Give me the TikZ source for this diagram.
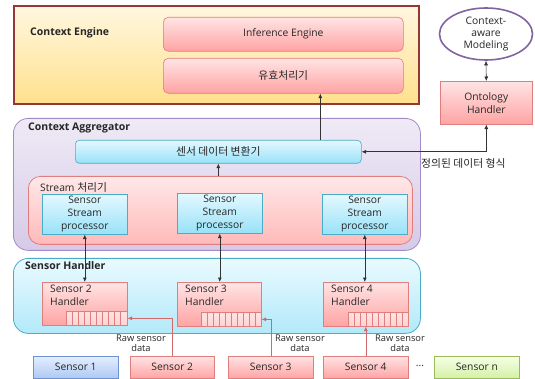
\documentclass[tikz,border=0pt]{standalone}
\usepackage{fontspec}
\setmainfont{Open Sans}
\newfontfamily\kr{Noto Sans CJK KR}
\usetikzlibrary{arrows.meta,shapes.geometric}
\definecolor{ceborder}{HTML}{953735}
\definecolor{cetop}{HTML}{FFF7E0}
\definecolor{cebot}{HTML}{FFE08C}
\definecolor{pktop}{HTML}{FFE4E4}
\definecolor{pkbot}{HTML}{FFA3A3}
\definecolor{pkborder}{HTML}{E07D7D}
\definecolor{cytop}{HTML}{E4F8FF}
\definecolor{cybot}{HTML}{98E2F8}
\definecolor{cyborder}{HTML}{4BACC6}
\definecolor{agtop}{HTML}{EFEAF6}
\definecolor{agbot}{HTML}{D6CAE8}
\definecolor{agborder}{HTML}{A28BC8}
\definecolor{sttop}{HTML}{FFE8E8}
\definecolor{stbot}{HTML}{FFB9B9}
\definecolor{shtop}{HTML}{E9FAFF}
\definecolor{shbot}{HTML}{B3E9F9}
\definecolor{s1top}{HTML}{E4EEFF}
\definecolor{s1bot}{HTML}{ADC9F2}
\definecolor{s1border}{HTML}{6F92D2}
\definecolor{sntop}{HTML}{F6FFE6}
\definecolor{snbot}{HTML}{D3F1A6}
\definecolor{snborder}{HTML}{9BBB59}
\definecolor{ellborder}{HTML}{8064A2}
\definecolor{rawline}{HTML}{D06A6A}
\definecolor{qfill}{HTML}{FFD2D2}
\tikzset{
  base/.style={anchor=north west, inner sep=0pt, align=center},
  cebox/.style={base, draw=ceborder, line width=1.8pt, top color=cetop, bottom color=cebot},
  pkbox/.style={base, draw=pkborder, line width=0.6pt, top color=pktop, bottom color=pkbot},
  cybox/.style={base, draw=cyborder, line width=0.6pt, top color=cytop, bottom color=cybot},
  agbox/.style={base, draw=agborder, line width=0.8pt, top color=agtop, bottom color=agbot, rounded corners=15pt},
  stbox/.style={base, draw=pkborder, line width=0.8pt, top color=sttop, bottom color=stbot, rounded corners=12pt},
  shbox/.style={base, draw=cyborder, line width=0.8pt, top color=shtop, bottom color=shbot, rounded corners=15pt},
  s1box/.style={base, draw=s1border, line width=0.6pt, top color=s1top, bottom color=s1bot},
  snbox/.style={base, draw=snborder, line width=0.6pt, top color=sntop, bottom color=snbot},
  qbox/.style={anchor=south east, inner sep=0pt, draw=pkborder, line width=0.5pt, top color=pktop, bottom color=qfill},
  title/.style={anchor=west, inner sep=0pt, font=\fontsize{10.5}{12}\selectfont\bfseries},
  plain/.style={inner sep=0pt, align=center},
  krtext/.style={font=\fontsize{10.8}{13}\selectfont\kr},
  arr/.style={-{Latex[length=4.5pt,width=4pt]}, line width=0.6pt, black!80},
  arrb/.style={{Latex[length=4.5pt,width=4pt]}-{Latex[length=4.5pt,width=4pt]}, line width=0.6pt, black!80},
  rarr/.style={-{Latex[length=4.5pt,width=4pt]}, line width=0.6pt, rawline},
}
\begin{document}
\begin{tikzpicture}[x=1pt,y=-1pt, font=\fontsize{10.3}{13}\selectfont, text=black!85]
\useasboundingbox (0,0) rectangle (535,379);
% Context Engine
\node[cebox, minimum width=405pt, minimum height=98pt] (ce) at (13,5) {};
\node[title] (cet) at (30,33) {Context Engine};
\node[pkbox, rounded corners=5pt, minimum width=240pt, minimum height=34pt] (inf) at (163,17) {Inference Engine};
\node[pkbox, rounded corners=5pt, minimum width=240pt, minimum height=35pt, krtext] (val) at (163,58) {유효처리기};
% Ontology side
\node[ellipse, draw=ellborder, line width=1.6pt, fill=white, minimum width=93pt, minimum height=52pt, inner sep=0pt, align=center, font=\fontsize{10.3}{12}\selectfont] (ell) at (486,34) {Context-\\aware\\Modeling};
\node[pkbox, minimum width=92pt, minimum height=43pt] (onto) at (440,81) {Ontology\\Handler};
% Context Aggregator
\node[agbox, minimum width=407pt, minimum height=132pt] (agg) at (13,118) {};
\node[title] (aggt) at (28,128) {Context Aggregator};
\node[cybox, rounded corners=4pt, minimum width=286pt, minimum height=23pt, krtext] (conv) at (75,140) {센서 데이터 변환기};
\node[stbox, minimum width=384pt, minimum height=68pt] (strm) at (28,176) {};
\node[anchor=west, inner sep=0pt] (strmt) at (40,187) {Stream {\fontsize{10.8}{13}\selectfont\kr 처리기}};
\node[cybox, minimum width=85pt, minimum height=40pt] (ssp1) at (42,194) {Sensor\\Stream\\processor};
\node[cybox, minimum width=85pt, minimum height=40pt] (ssp2) at (177,193) {Sensor\\Stream\\processor};
\node[cybox, minimum width=85pt, minimum height=40pt] (ssp3) at (322,194) {Sensor\\Stream\\processor};
% Sensor Handler
\node[shbox, minimum width=407pt, minimum height=75pt] (sh) at (13,258) {};
\node[title] (sht) at (25,266) {Sensor Handler};
\node[pkbox, minimum width=85pt, minimum height=43pt] (h2) at (42,282) {};
\node[pkbox, minimum width=84pt, minimum height=44pt] (h3) at (177,282) {};
\node[pkbox, minimum width=85pt, minimum height=44pt] (h4) at (323,282) {};
\node[anchor=north west, inner sep=0pt, align=left] (h2t) at (50,285) {Sensor 2\\Handler};
\node[anchor=north west, inner sep=0pt, align=left] (h3t) at (185,285) {Sensor 3\\Handler};
\node[anchor=north west, inner sep=0pt, align=left] (h4t) at (331,285) {Sensor 4\\Handler};
\node[qbox, minimum width=61pt, minimum height=14pt] (q2) at (h2.south east) {};
\node[qbox, minimum width=60pt, minimum height=14pt] (q3) at (h3.south east) {};
\node[qbox, minimum width=60pt, minimum height=14pt] (q4) at (h4.south east) {};
\foreach \q in {q2,q3,q4}{
  \foreach \i in {1,...,9}{
    \draw[pkborder, line width=0.5pt] ([xshift=\i*6pt]\q.south west) -- ([xshift=\i*6pt]\q.north west);
  }
}
% Sensors
\node[s1box, minimum width=85pt, minimum height=22pt] (s1) at (33,356) {Sensor 1};
\node[pkbox, minimum width=84pt, minimum height=22pt] (s2) at (130,356) {Sensor 2};
\node[pkbox, minimum width=85pt, minimum height=22pt] (s3) at (228,356) {Sensor 3};
\node[pkbox, minimum width=85pt, minimum height=22pt] (s4) at (323,356) {Sensor 4};
\node[plain] (dots) at (420,366) {...};
\node[snbox, minimum width=85pt, minimum height=22pt] (sn) at (434,356) {Sensor n};
% Labels
\node[plain, font=\fontsize{9.3}{10}\selectfont] (r2) at (141,343) {Raw sensor\\data};
\node[plain, font=\fontsize{9.3}{10}\selectfont] (r3) at (300,343) {Raw sensor\\data};
\node[plain, font=\fontsize{9.3}{10}\selectfont] (r4) at (400,343) {Raw sensor\\data};
\node[plain, anchor=west, krtext] (deflab) at (421,163) {정의된 데이터 형식};
% Connectors
\draw[arr] (conv.south |- strm.north) -- (conv.south);
\coordinate (up1) at ([xshift=102pt]conv.north);
\draw[arr] (up1) -- (up1 |- val.south);
\draw[arrb] (onto.south) |- (conv.east);
\draw[arrb] (ell.south) -- (onto.north);
\draw[arrb] (ssp1.south) -- (ssp1.south |- h2.north);
\draw[arrb] (ssp2.south) -- (ssp2.south |- h3.north);
\draw[arrb] (ssp3.south) -- (ssp3.south |- h4.north);
\draw[rarr] (s2.north) |- (q2.east);
\draw[rarr] (s3.north) |- (q3.east);
\draw[rarr] (s4.north) -- (s4.north |- h4.south);
\end{tikzpicture}
\end{document}
